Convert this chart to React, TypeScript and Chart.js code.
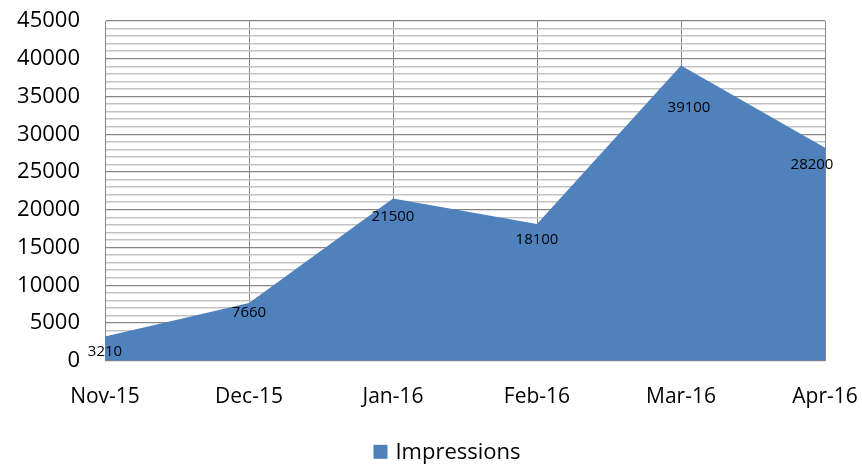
import React, { useEffect, useRef } from "react";
import { Chart, registerables } from "chart.js";

Chart.register(...registerables);

const categories = ["Nov-15", "Dec-15", "Jan-16", "Feb-16", "Mar-16", "Apr-16"];
const impressions = [3210, 7660, 21500, 18100, 39100, 28200];
const seriesName = "Impressions";
const yMax = 45000;
const yMajorStep = 5000;
const yMinorStep = 1000;

const FONT = "'Open Sans', 'Liberation Sans', sans-serif";
const FILL = "#4F81BD";

const labelPlugin = {
  id: "areaLabels",
  afterDatasetsDraw(chart: any) {
    const meta = chart.getDatasetMeta(0);
    const ctx = chart.ctx;
    const dy = [15, 10, 18, 16, 42, 17];
    const dx = [0, 0, 0, 0, 8, -13];
    ctx.save();
    ctx.font = `15px ${FONT}`;
    ctx.fillStyle = "#000";
    ctx.textAlign = "center";
    ctx.textBaseline = "middle";
    meta.data.forEach((pt: any, i: number) => {
      ctx.fillText(String(impressions[i]), pt.x + dx[i], pt.y + dy[i]);
    });
    ctx.restore();
  },
};

const legendPlugin = {
  id: "customLegend",
  afterDraw(chart: any) {
    const ctx = chart.ctx;
    const area = chart.chartArea;
    ctx.save();
    ctx.font = `22px ${FONT}`;
    const label = chart.data.datasets[0].label;
    const tw = ctx.measureText(label).width;
    const box = 14;
    const gap = 8;
    const total = box + gap + tw;
    const cx = (area.left + area.right) / 2 - 18;
    const x0 = cx - total / 2;
    const cy = area.bottom + 91;
    ctx.fillStyle = FILL;
    ctx.fillRect(x0, cy - box / 2, box, box);
    ctx.fillStyle = "#000";
    ctx.textAlign = "left";
    ctx.textBaseline = "middle";
    ctx.fillText(label, x0 + box + gap, cy + 1);
    ctx.restore();
  },
};

export default function App() {
  const ref = useRef<HTMLCanvasElement>(null);
  useEffect(() => {
    if (!ref.current) return;
    const chart = new Chart(ref.current, {
      type: "line",
      data: {
        labels: categories,
        datasets: [
          {
            label: seriesName,
            data: impressions,
            fill: "origin",
            backgroundColor: FILL,
            borderColor: FILL,
            borderWidth: 0,
            pointRadius: 0,
            tension: 0,
          },
        ],
      },
      options: {
        animation: false,
        responsive: false,
        maintainAspectRatio: false,
        layout: { padding: { left: 0, right: 37, top: 21, bottom: 31 } },
        plugins: {
          legend: { display: false },
          tooltip: { enabled: false },
        },
        scales: {
          x: {
            offset: false,
            afterFit: (s: any) => {
              s.paddingLeft = 0;
              s.paddingRight = 0;
            },
            grid: { color: "#878787", lineWidth: 1, drawTicks: false },
            border: { color: "#878787" },
            ticks: {
              font: { family: FONT, size: 21 },
              color: "#000",
              padding: 24,
              maxRotation: 0,
              autoSkip: false,
            },
          },
          y: {
            min: 0,
            max: yMax,
            afterFit: (s: any) => {
              s.width = 105;
              s.paddingTop = 0;
              s.paddingBottom = 0;
            },
            grid: {
              drawTicks: false,
              color: (c: any) =>
                c.tick && c.tick.value % yMajorStep === 0 ? "#878787" : "#c3c3c3",
              lineWidth: (c: any) =>
                c.tick && c.tick.value % yMajorStep === 0 ? 1.3 : 1.6,
            },
            border: { color: "#878787" },
            ticks: {
              stepSize: yMinorStep,
              autoSkip: false,
              font: { family: FONT, size: 22 },
              color: "#000",
              padding: 25,
              callback: (v: any) => (Number(v) % yMajorStep === 0 ? String(v) : ""),
            },
          },
        },
      },
      plugins: [labelPlugin, legendPlugin],
    });
    return () => chart.destroy();
  }, []);
  return (
    <div style={{ position: "fixed", left: 0, top: 0, width: 862, height: 465, background: "#fff" }}>
      <canvas ref={ref} width={862} height={465} />
    </div>
  );
}
